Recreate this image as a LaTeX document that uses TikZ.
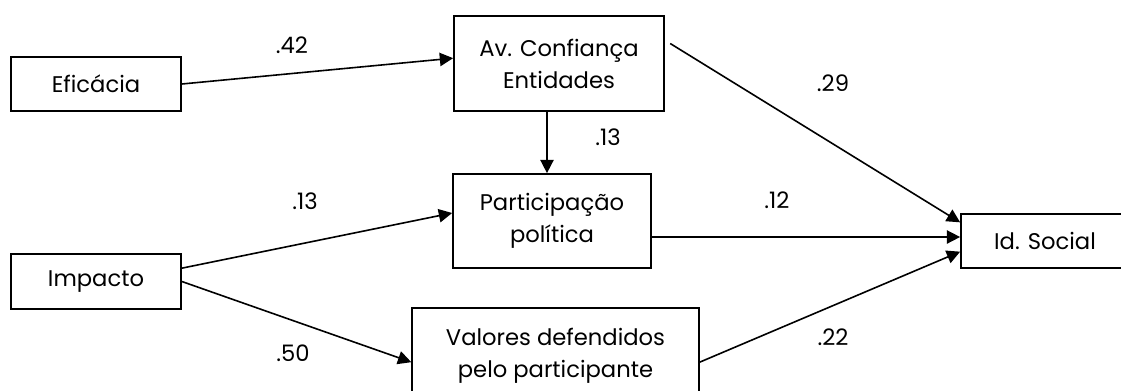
\documentclass[tikz,border=0pt]{standalone}
\usepackage{fontspec}
\setmainfont{Poppins}
\usepackage{tikz}
\usetikzlibrary{arrows.meta,positioning}

\tikzset{
  varbox/.style={ draw, line width=1.3pt, align=center, inner sep=0pt, font=\fontsize{17}{24}\selectfont }
}
\tikzset{
  wlabel/.style={ font=\fontsize{17}{24}\selectfont, inner sep=0pt }
}
\tikzset{
  path arrow/.style={ line width=1.2pt, -{Triangle[length=10pt,width=10pt]} }
}

\begin{document}
\begin{tikzpicture}[x=0.75pt,y=-0.75pt]
      \useasboundingbox (0,0) rectangle (1121,390);
      \clip (0,0) rectangle (1121,390);

      \node[varbox, minimum width=127.5pt, minimum height=40.5pt] (efic) at (96, 84) {Eficácia};
      \node[varbox, minimum width=127.5pt, minimum height=41pt] (impacto) at (96, 281.5) {Impacto};

      \node[varbox, minimum width=157.5pt, minimum height=71pt] (avconf) at (559, 63.5) {Av. Confiança\\Entidades};
      \node[varbox, minimum width=148.5pt, minimum height=70.5pt] (partic) at (552, 221) {Participação\\política};
      \node[varbox, minimum width=215pt, minimum height=71pt] (valores) at (555.5, 355.5) {Valores defendidos\\pelo participante};

      \node[varbox, minimum width=126pt, minimum height=40.5pt] (idsoc) at (1045, 241) {Id. Social};

      \coordinate (ptop) at ([xshift=-3.75pt]partic.north);

      \begin{scope}[path arrow]
        \draw (efic.east) -- ([yshift=4pt]avconf.west);
        \draw ([xshift=4pt,yshift=15pt]avconf.east) -- ([yshift=14pt]idsoc.west);
        \draw (avconf.south -| ptop) -- (ptop);

        \draw ([yshift=10pt]impacto.east) -- ([yshift=6pt]partic.west);
        \draw (impacto.east) -- ([yshift=-5pt]valores.west);

        \draw ([yshift=-12pt]partic.east) -- ([yshift=3pt]idsoc.west);
        \draw ([yshift=-5pt]valores.east) -- ([yshift=-8pt]idsoc.west);
      \end{scope}

      \node[wlabel] (w42) at (292, 45) {.42};
      \node[wlabel] (w29) at (833, 83) {.29};
      \node[wlabel] (w13a) at (608, 137) {.13};
      \node[wlabel] (w13b) at (305, 201) {.13};
      \node[wlabel] (w12) at (777, 200) {.12};
      \node[wlabel] (w50) at (293, 353) {.50};
      \node[wlabel] (w22) at (833, 337) {.22};
\end{tikzpicture}
\end{document}
